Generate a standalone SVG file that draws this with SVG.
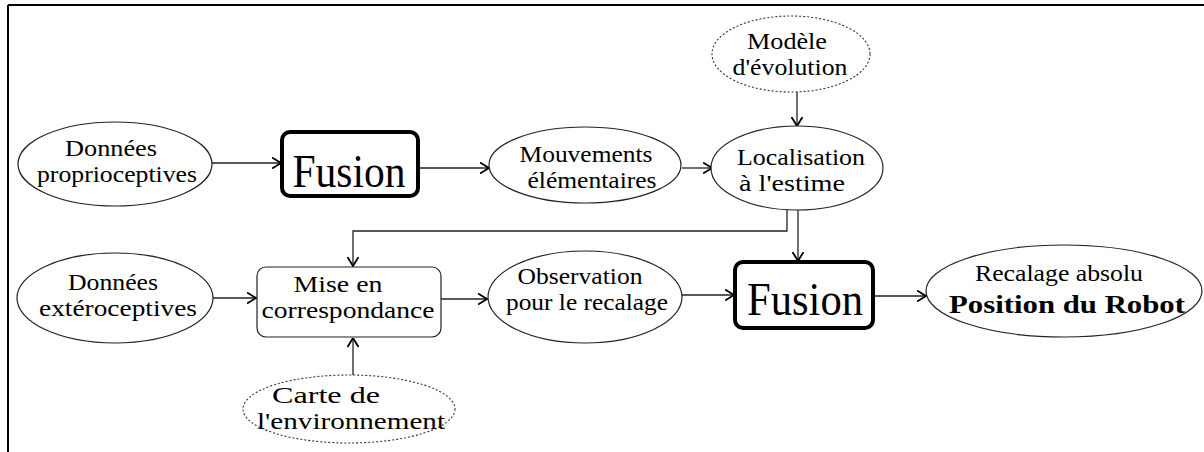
<svg xmlns="http://www.w3.org/2000/svg" width="1204" height="452" viewBox="0 0 1204 452">
<defs>
<style>
.n{fill:#fff;stroke:#222;stroke-width:1.2}
.d{fill:#fff;stroke:#333;stroke-width:1.1;stroke-dasharray:2 2}
.f{fill:#fff;stroke:#000;stroke-width:4}
.r{fill:#fff;stroke:#222;stroke-width:1.2}
text{font-family:'Liberation Serif','DejaVu Serif',serif;font-size:23px;fill:#000;text-anchor:middle}
.b{font-weight:bold;font-size:25px}
.big{font-size:46px}
.c{fill:none;stroke:#222;stroke-width:1.3}
</style>
<marker id="ah" viewBox="0 0 10 12" refX="9.5" refY="6" markerWidth="10" markerHeight="12" markerUnits="userSpaceOnUse" orient="auto">
<path d="M0.5,0.5 L9.5,6 L0.5,11.5" fill="none" stroke="#000" stroke-width="1.8"/>
</marker>
</defs>
<rect width="1204" height="452" fill="#fff"/>
<g id="frame">
<line x1="8" y1="5" x2="1204" y2="5" stroke="#000" stroke-width="2"/>
<line x1="8" y1="5" x2="8" y2="452" stroke="#000" stroke-width="2"/>
</g>
<g id="connectors">
<line class="c" x1="212" y1="163" x2="281" y2="163" marker-end="url(#ah)"/>
<line class="c" x1="418" y1="168" x2="489" y2="168" marker-end="url(#ah)"/>
<line class="c" x1="682" y1="168" x2="712" y2="168" marker-end="url(#ah)"/>
<line class="c" x1="797" y1="92" x2="797" y2="126" marker-end="url(#ah)"/>
<line class="c" x1="798" y1="210" x2="798" y2="261" marker-end="url(#ah)"/>
<polyline class="c" points="787,210 787,231 353,231 353,266" marker-end="url(#ah)"/>
<line class="c" x1="213" y1="298" x2="256" y2="298" marker-end="url(#ah)"/>
<line class="c" x1="353" y1="377" x2="353" y2="338" marker-end="url(#ah)"/>
<line class="c" x1="441" y1="299" x2="487" y2="299" marker-end="url(#ah)"/>
<line class="c" x1="682" y1="295" x2="734" y2="295" marker-end="url(#ah)"/>
<line class="c" x1="873" y1="296" x2="926" y2="296" marker-end="url(#ah)"/>
</g>
<g id="donnees-proprio">
<ellipse class="n" cx="115" cy="164" rx="97" ry="42"/>
<text x="111" y="156" textLength="92" lengthAdjust="spacingAndGlyphs">Données</text>
<text x="117" y="182" textLength="160" lengthAdjust="spacingAndGlyphs">proprioceptives</text>
</g>
<g id="fusion1">
<rect class="f" x="282" y="132" width="136" height="64" rx="8"/>
<text class="big" x="349" y="187" textLength="113" lengthAdjust="spacingAndGlyphs">Fusion</text>
</g>
<g id="mouvements">
<ellipse class="n" cx="585" cy="165" rx="96" ry="38"/>
<text x="586" y="162" textLength="133" lengthAdjust="spacingAndGlyphs">Mouvements</text>
<text x="592" y="188" textLength="129" lengthAdjust="spacingAndGlyphs">élémentaires</text>
</g>
<g id="modele">
<ellipse class="d" cx="791" cy="54" rx="79" ry="38"/>
<text x="787" y="49" textLength="80" lengthAdjust="spacingAndGlyphs">Modèle</text>
<text x="790" y="75" textLength="115" lengthAdjust="spacingAndGlyphs">d'évolution</text>
</g>
<g id="localisation">
<ellipse class="n" cx="797" cy="168" rx="86" ry="42"/>
<text x="801" y="165" textLength="128" lengthAdjust="spacingAndGlyphs">Localisation</text>
<text x="792" y="191" textLength="106" lengthAdjust="spacingAndGlyphs">à l'estime</text>
</g>
<g id="donnees-extero">
<ellipse class="n" cx="115" cy="298" rx="98" ry="45"/>
<text x="113" y="290" textLength="90" lengthAdjust="spacingAndGlyphs">Données</text>
<text x="118" y="316" textLength="158" lengthAdjust="spacingAndGlyphs">extéroceptives</text>
</g>
<g id="mise">
<rect class="r" x="257" y="267" width="184" height="70" rx="9"/>
<text x="338" y="292" textLength="89" lengthAdjust="spacingAndGlyphs">Mise en</text>
<text x="348" y="318" textLength="173" lengthAdjust="spacingAndGlyphs">correspondance</text>
</g>
<g id="carte">
<ellipse class="d" cx="349" cy="409" rx="106" ry="34"/>
<text x="326" y="403" textLength="108" lengthAdjust="spacingAndGlyphs">Carte de</text>
<text x="351" y="429" textLength="188" lengthAdjust="spacingAndGlyphs">l'environnement</text>
</g>
<g id="observation">
<ellipse class="n" cx="585" cy="297" rx="97" ry="46"/>
<text x="580" y="284" textLength="125" lengthAdjust="spacingAndGlyphs">Observation</text>
<text x="587" y="310" textLength="162" lengthAdjust="spacingAndGlyphs">pour le recalage</text>
</g>
<g id="fusion2">
<rect class="f" x="735" y="262" width="138" height="66" rx="8"/>
<text class="big" x="805" y="315" textLength="116" lengthAdjust="spacingAndGlyphs">Fusion</text>
</g>
<g id="recalage">
<ellipse class="n" cx="1064" cy="291" rx="138" ry="46"/>
<text x="1059" y="281" textLength="168" lengthAdjust="spacingAndGlyphs">Recalage absolu</text>
<text class="b" x="1067" y="313" textLength="236" lengthAdjust="spacingAndGlyphs">Position du Robot</text>
</g>
</svg>
